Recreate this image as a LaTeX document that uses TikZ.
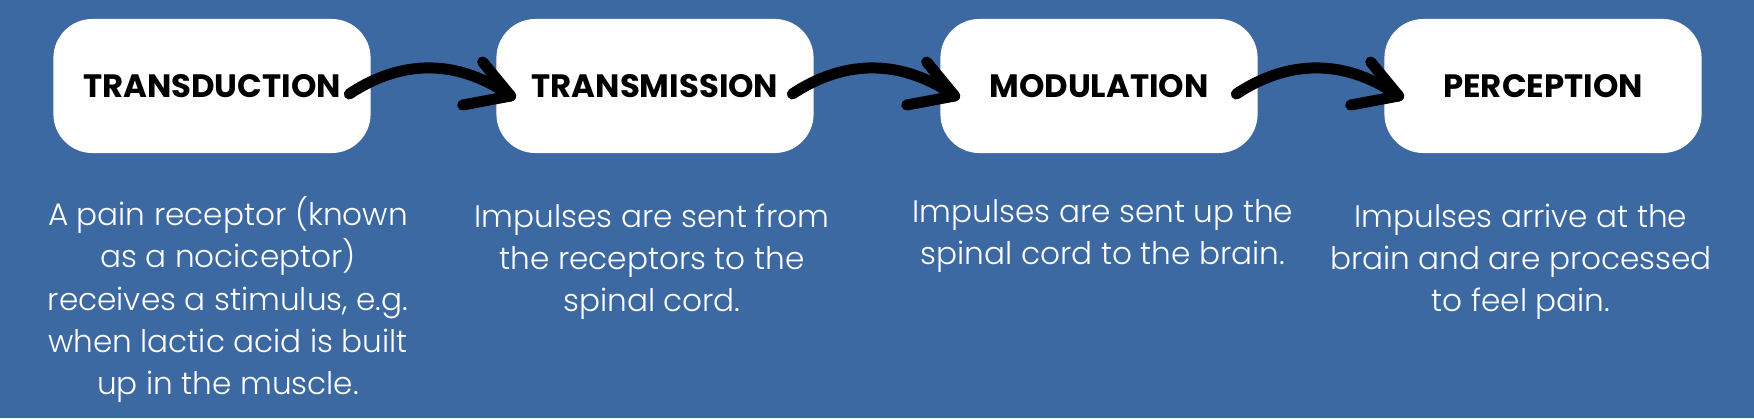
\documentclass[tikz,border=0pt]{standalone}
\usepackage{fontspec}
\usepackage{xcolor}
\setmainfont{Poppins}
\IfFontExistsTF{Poppins Light}{\newfontfamily\bodyfont{Poppins Light}}{\newfontfamily\bodyfont{Poppins}}
\definecolor{painblue}{RGB}{61,105,163}

\begin{document}
\begin{tikzpicture}[x=0.01cm, y=-0.01cm,
    stage/.style={fill=white, rounded corners=0.39cm, minimum width=3.17cm, minimum height=1.34cm,
        font=\fontsize{9.2}{11}\selectfont\bfseries, text=black},
    desc/.style={anchor=north, align=center, inner sep=0pt, text=white,
        font=\bodyfont\fontsize{8.85}{12}\selectfont},
    brush/.style={line width=0.11cm, line cap=round, line join=round, black}]
    \fill[painblue] (0,0) rectangle (1754,418);

    % stages
    \node[stage] (transduction) at (212,86) {TRANSDUCTION};
    \node[stage] (transmission) at (655,86) {TRANSMISSION};
    \node[stage] (modulation) at (1099,86) {MODULATION};
    \node[stage] (perception) at (1543,86) {PERCEPTION};

    % hand drawn arrows
    \foreach \a/\b in {transduction/transmission, transmission/modulation, modulation/perception} {
        \draw[brush] ([shift={(-22,8)}]\a.east) coordinate (s)
            .. controls +(45,-30) and +(-60,-42) .. ([shift={(15,10)}]\b.west) coordinate (t);
        \draw[brush] (t) ++(-28,-34) -- (t) -- ++(-48,9);
    }

    % descriptions
    \node[desc] (transductiontext) at (228,196) {A pain receptor (known\\as a nociceptor)\\receives a stimulus, e.g.\\when lactic acid is built\\up in the muscle.};
    \node[desc] (transmissiontext) at (652,203) {Impulses are sent from\\the receptors to the\\spinal cord.};
    \node[desc] (modulationtext) at (1103,199) {Impulses are sent up the\\spinal cord to the brain.};
    \node[desc] (perceptiontext) at (1521,203) {Impulses arrive at the\\brain and are processed\\to feel pain.};
\end{tikzpicture}
\end{document}
